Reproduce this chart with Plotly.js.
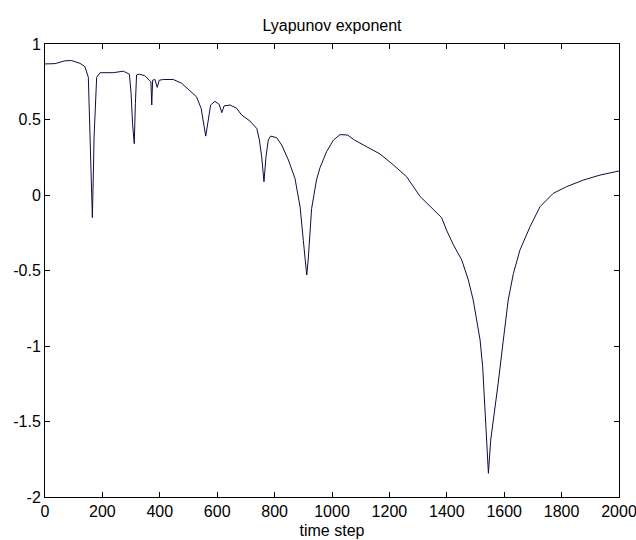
<!DOCTYPE html>
<html>
<head>
<meta charset="utf-8">
<script src="https://cdn.plot.ly/plotly-3.0.1.min.js"></script>
<style>body{margin:0;padding:0;background:#fff;}#chart{width:636px;height:540px;}</style>
</head>
<body>
<div id="chart"></div>
<script>
const timeStep = [0,35,70,93,122,139,151,154,160,163,165,168,171,180,192,238,273,294,300,305,311,315,319,329,348,363,369,372,375,383,391,398,412,447,476,505,528,544,551,560,569,577,592,607,616,624,645,668,685,714,738,747,755,763,770,778,786,807,825,848,871,889,900,912,917,929,946,958,981,1005,1028,1055,1078,1121,1167,1214,1260,1307,1353,1382,1399,1423,1452,1475,1492,1504,1516,1525,1533,1539,1545,1553,1564,1579,1597,1614,1632,1655,1690,1725,1748,1771,1817,1876,1934,2000];
const lyapunov = [0.868,0.87,0.889,0.89,0.872,0.85,0.78,0.54,0.2,-0.05,-0.15,0.1,0.386,0.78,0.81,0.81,0.82,0.80,0.673,0.475,0.34,0.607,0.795,0.80,0.79,0.76,0.75,0.596,0.76,0.765,0.713,0.76,0.765,0.765,0.74,0.69,0.65,0.574,0.497,0.39,0.497,0.596,0.62,0.60,0.545,0.59,0.596,0.574,0.53,0.49,0.44,0.364,0.254,0.088,0.254,0.364,0.39,0.38,0.33,0.232,0.11,-0.08,-0.3,-0.53,-0.43,-0.09,0.1,0.18,0.287,0.364,0.40,0.397,0.364,0.32,0.272,0.199,0.121,-0.01,-0.099,-0.15,-0.232,-0.33,-0.43,-0.563,-0.695,-0.828,-0.96,-1.137,-1.40,-1.60,-1.843,-1.623,-1.468,-1.247,-0.96,-0.695,-0.52,-0.364,-0.21,-0.077,-0.033,0.011,0.055,0.099,0.132,0.159];
const xTickVals = [0,200,400,600,800,1000,1200,1400,1600,1800,2000];
const xTickText = ['0','200','400','600','800','1000','1200','1400','1600','1800','2000'];
const yTickVals = [-2,-1.5,-1,-0.5,0,0.5,1];
const yTickText = ['-2','-1.5','-1','-0.5','0','0.5','1'];
const titleText = 'Lyapunov exponent';
const xLabel = 'time step';

const fam = '"Liberation Sans", Arial, sans-serif';
const fnt = {family: fam, size: 16, color: '#000'};
const axisCommon = {
  showline: true, linecolor: '#000', linewidth: 1, mirror: 'ticks',
  ticks: 'inside', ticklen: 5, tickcolor: '#000', tickwidth: 1,
  showgrid: false, zeroline: false, tickfont: fnt, tickmode: 'array',
  ticklabeloverflow: 'allow'
};
Plotly.newPlot('chart', [{
  x: timeStep, y: lyapunov, type: 'scatter', mode: 'lines',
  line: {color: '#0d0d40', width: 1}
}], {
  width: 636, height: 540,
  margin: {l: 45, r: 17, t: 44, b: 43},
  paper_bgcolor: '#fff', plot_bgcolor: '#fff',
  showlegend: false,
  title: {text: titleText, font: {family: fam, size: 16, color: '#000'},
    x: 0.5, xanchor: 'center', xref: 'paper', yref: 'container', y: 0.953, yanchor: 'middle'},
  xaxis: Object.assign({}, axisCommon, {range: [0, 2000], tickvals: xTickVals, ticktext: xTickText,
    title: {text: xLabel, font: {family: fam, size: 16, color: '#000'}, standoff: 5}}),
  yaxis: Object.assign({}, axisCommon, {range: [-2, 1], tickvals: yTickVals, ticktext: yTickText})
}, {displayModeBar: false, staticPlot: true});
</script>
</body>
</html>
